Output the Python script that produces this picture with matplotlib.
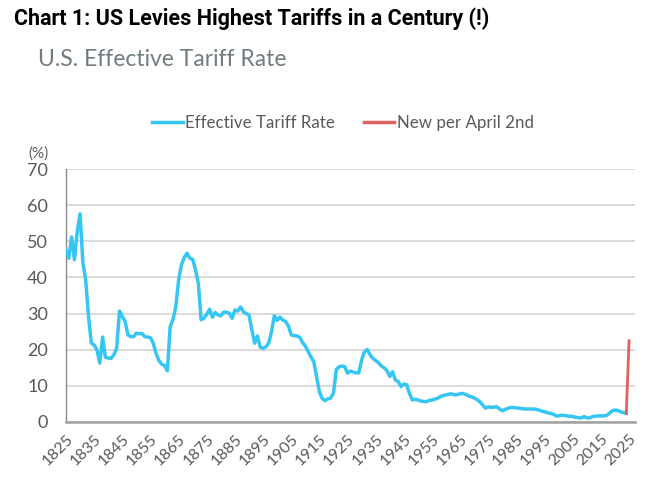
import matplotlib
matplotlib.use("Agg")
import matplotlib.pyplot as plt
from matplotlib.lines import Line2D

years = [1825, 1826, 1827, 1828, 1829, 1830, 1831, 1832, 1833, 1834, 1835, 1836, 1837, 1838, 1839,
         1840, 1841, 1842, 1843, 1844, 1845, 1846, 1847, 1848, 1849, 1850, 1851, 1852, 1853, 1854,
         1855, 1856, 1857, 1858, 1859, 1860, 1861, 1862, 1863, 1864, 1865, 1866, 1867, 1868, 1869,
         1870, 1871, 1872, 1873, 1874, 1875, 1876, 1877, 1878, 1879, 1880, 1881, 1882, 1883, 1884,
         1885, 1886, 1887, 1888, 1889, 1890, 1891, 1892, 1893, 1894, 1895, 1896, 1897, 1898, 1899,
         1900, 1901, 1902, 1903, 1904, 1905, 1906, 1907, 1908, 1909, 1910, 1911, 1912, 1913, 1914,
         1915, 1916, 1917, 1918, 1919, 1920, 1921, 1922, 1923, 1924, 1925, 1926, 1927, 1928, 1929,
         1930, 1931, 1932, 1933, 1934, 1935, 1936, 1937, 1938, 1939, 1940, 1941, 1942, 1943, 1944,
         1945, 1946, 1947, 1948, 1949, 1950, 1951, 1952, 1953, 1954, 1955, 1956, 1957, 1958, 1959,
         1960, 1961, 1962, 1963, 1964, 1965, 1966, 1967, 1968, 1969, 1970, 1971, 1972, 1973, 1974,
         1975, 1976, 1977, 1978, 1979, 1980, 1981, 1982, 1983, 1984, 1985, 1986, 1987, 1988, 1989,
         1990, 1991, 1992, 1993, 1994, 1995, 1996, 1997, 1998, 1999, 2000, 2001, 2002, 2003, 2004,
         2005, 2006, 2007, 2008, 2009, 2010, 2011, 2012, 2013, 2014, 2015, 2016, 2017, 2018, 2019,
         2020, 2021, 2022, 2023, 2024]
tariff = [47.6, 45.3, 51.2, 44.9, 52.7, 57.6, 44.0, 39.3, 29.2, 21.8, 21.3, 19.9, 16.3, 23.5, 17.9,
          17.7, 17.6, 18.6, 20.4, 30.7, 29.2, 27.8, 24.1, 23.6, 23.6, 24.6, 24.4, 24.5, 23.6, 23.5,
          23.3, 21.8, 19.0, 17.0, 16.0, 15.6, 14.2, 26.4, 28.3, 31.9, 39.3, 43.5, 45.5, 46.7, 45.3,
          45.0, 42.1, 38.4, 28.3, 28.7, 29.8, 31.2, 29.0, 30.3, 29.6, 29.4, 30.4, 30.4, 30.1, 28.7,
          31.0, 30.7, 31.8, 30.5, 30.0, 29.6, 25.5, 21.8, 23.8, 20.7, 20.4, 20.8, 21.8, 25.0, 29.4,
          28.1, 29.0, 28.2, 27.8, 26.6, 24.1, 23.9, 23.8, 23.5, 22.0, 21.0, 19.5, 18.0, 16.7, 12.5,
          8.4, 6.5, 5.9, 6.4, 6.6, 8.0, 14.5, 15.3, 15.5, 15.3, 13.5, 14.1, 13.8, 13.6, 13.6,
          17.2, 19.4, 20.1, 18.6, 17.6, 17.0, 16.4, 15.5, 15.0, 14.2, 12.6, 13.9, 11.6, 11.2, 9.8,
          10.5, 10.3, 7.9, 6.1, 6.3, 6.1, 5.8, 5.7, 5.6, 6.0, 6.1, 6.3, 6.6, 7.0, 7.3,
          7.5, 7.7, 7.8, 7.5, 7.6, 7.8, 7.9, 7.6, 7.2, 7.0, 6.6, 6.2, 5.6, 4.7, 3.8,
          4.2, 4.1, 4.1, 4.2, 3.6, 3.1, 3.5, 3.8, 4.0, 4.0, 3.9, 3.8, 3.7, 3.6, 3.6,
          3.6, 3.6, 3.5, 3.3, 3.0, 2.8, 2.6, 2.4, 2.2, 1.7, 1.7, 1.9, 1.8, 1.7, 1.6,
          1.5, 1.3, 1.2, 1.1, 1.5, 1.2, 1.1, 1.5, 1.6, 1.7, 1.7, 1.7, 1.8, 2.4, 3.1,
          3.3, 3.2, 2.8, 2.6, 2.4]

new_years = [2024, 2025]
new_rate = [2.4, 22.5]

series_names = ["Effective Tariff Rate", "New per April 2nd"]
tick_years = list(range(1825, 2026, 10))
y_ticks = [0, 10, 20, 30, 40, 50, 60, 70]

title = "Chart 1: US Levies Highest Tariffs in a Century (!)"
subtitle = "U.S. Effective Tariff Rate"

BLUE = "#35c6f4"
RED = "#e0625c"
GRAY_TXT = "#595959"

fig = plt.figure(figsize=(6.6, 4.84), dpi=100)
ax = fig.add_axes([66/660, 1 - 422/484, (635-66)/660, (422-169)/484])

ax.plot(years, tariff, color=BLUE, lw=2.5, solid_joinstyle="round", zorder=3)
ax.plot(new_years, new_rate, color=RED, lw=2.0, zorder=4)

ax.set_xlim(1825, 2027.1)
ax.set_ylim(0, 70)
ax.set_yticks(y_ticks)
ax.set_xticks(tick_years)
ax.set_xticklabels([str(t) for t in tick_years], rotation=45, ha="right",
                   rotation_mode="anchor", fontsize=11.5, color=GRAY_TXT, family="Lato")
ax.set_yticklabels([str(t) for t in y_ticks], fontsize=13, color=GRAY_TXT, family="Lato")
ax.tick_params(axis="both", length=0)
ax.tick_params(axis="y", pad=13)
ax.tick_params(axis="x", pad=7)
ax.grid(axis="y", color="#d4d4d4", lw=1.2)
ax.set_axisbelow(True)
for s in ["top", "right"]:
    ax.spines[s].set_visible(False)
ax.spines["left"].set_color("#8c8c8c")
ax.spines["left"].set_linewidth(1.0)
ax.spines["bottom"].set_color("#a0a0a0")
ax.spines["bottom"].set_linewidth(1.8)

fig.text(14/660, 1 - 25/484, title, fontsize=15.5, fontweight="bold", family="Roboto",
         color="black", va="baseline", ha="left")
fig.text(38/660, 1 - 66/484, subtitle, fontsize=16.5, family="Lato", color="#717c80",
         va="baseline", ha="left")
fig.text(28/660, 1 - 158/484, "(%)", fontsize=11, family="Lato", color=GRAY_TXT,
         va="baseline", ha="left")

handles = [Line2D([], [], color=BLUE, lw=2.5), Line2D([], [], color=RED, lw=2.5)]
fig.legend(handles, series_names, loc="center", bbox_to_anchor=(343/660, 1 - 123/484),
           ncol=2, frameon=False, handlelength=1.8, handletextpad=0.15, columnspacing=1.7,
           prop={"family": "Lato", "size": 12.2}, labelcolor=GRAY_TXT)

fig.savefig("out.png", dpi=100, facecolor="white")
